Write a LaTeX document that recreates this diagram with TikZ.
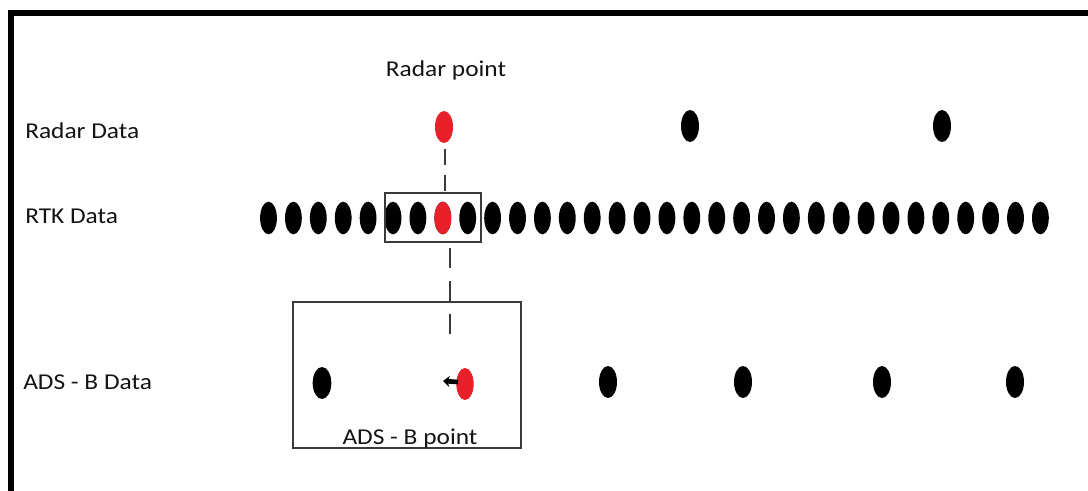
\documentclass[tikz,border=0pt]{standalone}
\usepackage{fontspec}
\setmainfont{Carlito}[FakeStretch=1.12]
\usetikzlibrary{shapes.geometric,arrows.meta}
\definecolor{framegray}{HTML}{3A3A3A}
\definecolor{ptred}{HTML}{E8202A}
\tikzset{
  dot/.style={ellipse,fill=black,draw=none,inner sep=0pt,minimum width=12.6pt,minimum height=24.5pt},
  bigdot/.style={ellipse,fill=black,draw=none,inner sep=0pt,minimum width=13.5pt,minimum height=24pt},
  reddot/.style={fill=ptred},
  lbl/.style={inner sep=0pt,font=\fontsize{17pt}{20pt}\selectfont,text=black!92},
  frame/.style={draw=framegray,line width=1.5pt},
  guide/.style={draw=framegray,line width=1.5pt}
}
\begin{document}
\begin{tikzpicture}[x=0.75pt,y=-0.75pt]
\useasboundingbox (0,0) rectangle (1088,491);
\fill[white] (0,0) rectangle (1088,491);
% outer border, open at right and bottom
\draw[line width=4.5pt,line join=miter] (11,491) -- (11,13.5) -- (1088,13.5);

% row labels
\node[lbl,anchor=base west] (lradar) at (25,139) {Radar Data};
\node[lbl,anchor=base west] (lrtk) at (25,224) {RTK Data};
\node[lbl,anchor=base west] (lads) at (23,389) {ADS - B Data};
\node[lbl,anchor=base] (lrpt) at (446,77) {Radar point};

% radar samples
\node[bigdot,reddot] (r1) at (444,127) {};
\node[bigdot] (r2) at (690,126) {};
\node[bigdot] (r3) at (942,126) {};

% RTK samples
\foreach \i in {0,...,31}{
  \node[dot] (k\i) at ({268.5+24.9*\i},218) {};
}
\node[dot,reddot] at (k7) {};

% window round the matched RTK samples
\node[frame,inner sep=0pt,minimum width=72pt,minimum height=36.75pt] (win) at (433,217.5) {};

% ADS-B samples
\node[bigdot,minimum width=14pt] (a1) at (322,383) {};
\node[bigdot,reddot,minimum width=13pt] (a2) at (465,384) {};
\node[bigdot] (a3) at (608,382) {};
\node[bigdot] (a4) at (743,382) {};
\node[bigdot] (a5) at (882,382) {};
\node[bigdot] (a6) at (1015,382) {};
\coordinate (atip) at (443,381);
\draw[line width=3.5pt,-{Stealth[length=5pt,width=8.5pt]}] (a2.west) ++(2,-2) -- (atip);

% zoomed region round the ADS-B point
\node[frame,inner sep=0pt,minimum width=171pt,minimum height=109.5pt] (zoombox) at (407,375) {};
\node[lbl,anchor=base] (lapt) at (410,444) {ADS - B point};

% dashed alignment guides
\coordinate (g1) at (445,193);
\draw[guide,dash pattern=on 12pt off 7.5pt] (r1.south) ++(1,6) -- (g1);
\coordinate (g2) at (450,242);
\coordinate (g3) at (450,335);
\draw[guide,dash pattern=on 15pt off 9.75pt] (g2) ++(0,6) -- (g3);
\end{tikzpicture}
\end{document}
